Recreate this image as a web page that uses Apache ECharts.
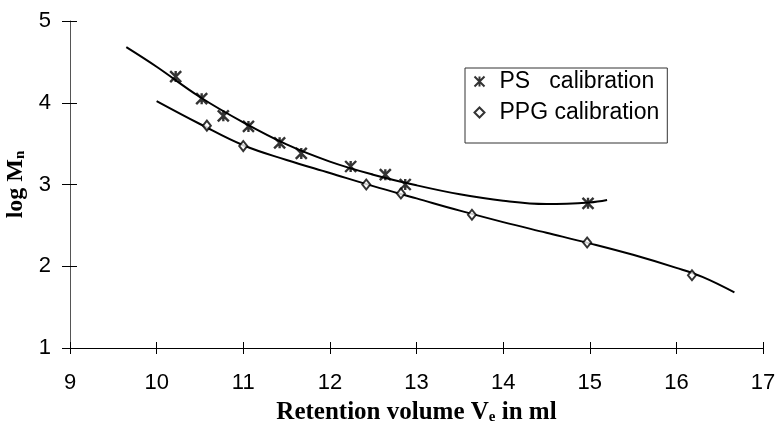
<!DOCTYPE html>
<html>
<head>
<meta charset="utf-8">
<script src="https://cdn.jsdelivr.net/npm/echarts@6/dist/echarts.min.js"></script>
<style>
  html, body { margin: 0; padding: 0; background: #fff; }
  #chart { width: 776px; height: 424px; }
</style>
</head>
<body>
<div id="chart"></div>
<script>
// measured points, PS calibration (x: retention volume, y: log Mn)
var psX = [10.22, 10.52, 10.77, 11.06, 11.42, 11.67, 12.24, 12.64, 12.87, 14.98];
var psY = [4.32, 4.05, 3.84, 3.71, 3.51, 3.38, 3.22, 3.12, 3.00, 2.77];

// measured points, PPG calibration
var ppgX = [10.58, 11.00, 12.42, 12.82, 13.64, 14.97, 16.18];
var ppgY = [3.72, 3.47, 3.00, 2.89, 2.63, 2.29, 1.89];

// fitted calibration curves
var psCurveX = [9.65, 10.0, 10.5, 11.0, 11.5, 12.0, 12.5, 13.0, 13.5, 14.0, 14.5, 15.0, 15.2];
var psCurveY = [4.68, 4.44, 4.07, 3.76, 3.49, 3.28, 3.12, 2.99, 2.88, 2.80, 2.76, 2.78, 2.81];
var ppgCurveX = [10.0, 10.5, 11.0, 11.5, 12.0, 12.5, 13.0, 13.5, 14.0, 14.5, 15.0, 15.5, 16.0, 16.3, 16.67];
var ppgCurveY = [4.02, 3.74, 3.48, 3.30, 3.14, 2.98, 2.83, 2.68, 2.54, 2.41, 2.28, 2.14, 1.98, 1.87, 1.68];

var seriesNames = ['PS   calibration', 'PPG calibration'];

function pairs(xs, ys) {
    var out = [];
    for (var i = 0; i < xs.length; i++) {
        out.push([xs[i], ys[i]]);
    }
    return out;
}

var starPath = 'path://M0,0L10,10M10,0L0,10M5,0L5,10';
var serif = 'Liberation Serif, Times New Roman';
var sans = 'Liberation Sans, Arial';

var chart = echarts.init(document.getElementById('chart'));
var option = {
    animation: false,
    backgroundColor: '#fff',
    grid: { left: 70, right: 13, top: 21, bottom: 76, outerBoundsMode: 'none', containLabel: false },
    legend: {
        orient: 'vertical',
        left: 465,
        top: 68,
        padding: [2, 8, 19, 7],
        itemGap: 8,
        itemWidth: 10,
        itemHeight: 10,
        borderColor: '#333',
        borderWidth: 1,
        backgroundColor: '#fff',
        data: seriesNames,
        textStyle: { fontFamily: sans, fontSize: 23, color: '#000', padding: [0, 0, 0, 10] }
    },
    xAxis: [{
        type: 'value', min: 9, max: 17, interval: 1,
        name: '{b|Retention volume V}{s|e}{b| in ml}',
        nameLocation: 'middle', nameGap: 52,
        nameTextStyle: {
            rich: {
                b: { fontFamily: serif, fontWeight: 'bold', fontSize: 25, color: '#000' },
                s: { fontFamily: serif, fontWeight: 'bold', fontSize: 15, color: '#000', padding: [10, 0, 0, 0] }
            }
        },
        splitLine: { show: false },
        axisLine: { onZero: false, lineStyle: { color: '#000', width: 1 } },
        axisTick: { length: 6, lineStyle: { color: '#000' } },
        axisLabel: { margin: 24, fontFamily: sans, fontSize: 22, color: '#000' }
    }, {
        type: 'value', min: 9, max: 17, interval: 1, position: 'bottom',
        splitLine: { show: false },
        axisLine: { show: false },
        axisTick: { inside: true, length: 6, lineStyle: { color: '#000' } },
        axisLabel: { show: false }
    }],
    yAxis: [{
        type: 'value', min: 1, max: 5, interval: 1,
        name: '{b|log M}{s|n}',
        nameLocation: 'middle', nameGap: 30, nameRotate: 90,
        nameTextStyle: {
            rich: {
                b: { fontFamily: serif, fontWeight: 'bold', fontSize: 24, color: '#000' },
                s: { fontFamily: serif, fontWeight: 'bold', fontSize: 15, color: '#000', padding: [10, 0, 0, 0] }
            }
        },
        splitLine: { show: false },
        axisLine: { onZero: false, lineStyle: { color: '#555', width: 1 } },
        axisTick: { length: 8, lineStyle: { color: '#000' } },
        axisLabel: { margin: 19, fontFamily: sans, fontSize: 22, color: '#000' }
    }, {
        type: 'value', min: 1, max: 5, interval: 1, position: 'left',
        splitLine: { show: false },
        axisLine: { show: false },
        axisTick: { inside: true, length: 7, lineStyle: { color: '#000' } },
        axisLabel: { show: false }
    }],
    series: [
        {
            name: 'psCurve', type: 'line', smooth: 0.4, showSymbol: false, symbol: 'none',
            data: pairs(psCurveX, psCurveY),
            lineStyle: { color: '#000', width: 2 }, z: 2
        },
        {
            name: 'ppgCurve', type: 'line', smooth: 0.4, showSymbol: false, symbol: 'none',
            data: pairs(ppgCurveX, ppgCurveY),
            lineStyle: { color: '#000', width: 2 }, z: 2
        },
        {
            name: seriesNames[0], type: 'scatter', symbol: starPath, symbolSize: 11,
            data: pairs(psX, psY),
            itemStyle: { color: 'none', borderColor: '#000', borderWidth: 2.4 }, z: 3
        },
        {
            name: seriesNames[1], type: 'scatter', symbol: 'diamond', symbolSize: [8, 10],
            data: pairs(ppgX, ppgY),
            itemStyle: { color: '#fff', borderColor: '#000', borderWidth: 2 }, z: 3
        }
    ]
};
chart.setOption(option);
</script>
</body>
</html>
